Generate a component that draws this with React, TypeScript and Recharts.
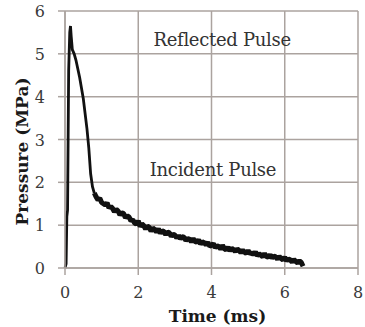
import { CartesianGrid, Line, LineChart, ReferenceDot, XAxis, YAxis } from "recharts";

// rising edge and main decay, sampled by hand
const riseTime = [0, 0.03, 0.05, 0.07, 0.1, 0.13, 0.15, 0.17, 0.2, 0.25, 0.3, 0.4, 0.5, 0.6, 0.65, 0.7, 0.75, 0.8];
const risePressure = [0, 0.1, 1.2, 1.35, 4.6, 5.5, 5.65, 5.4, 5.1, 5.0, 4.85, 4.45, 3.95, 3.25, 2.8, 2.2, 1.9, 1.75];

// noisy tail, one sample every 0.05 ms starting at 0.85 ms
const tailStart = 0.85;
const tailStep = 0.05;
const tailPressure = [
  1.66, 1.59, 1.63, 1.53, 1.5, 1.47, 1.52, 1.4, 1.44, 1.39, 1.31, 1.37, 1.33, 1.24, 1.29, 1.27, 1.17, 1.22, 1.19, 1.1,
  1.13, 1.05, 1.02, 1.1, 0.97, 1.03, 0.99, 0.91, 0.98, 0.95, 0.86, 0.93, 0.9, 0.84, 0.92, 0.81, 0.87, 0.85, 0.78, 0.84,
  0.82, 0.74, 0.79, 0.77, 0.7, 0.76, 0.68, 0.73, 0.72, 0.64, 0.69, 0.67, 0.61, 0.69, 0.62, 0.6, 0.66, 0.56, 0.61, 0.59,
  0.54, 0.6, 0.51, 0.53, 0.57, 0.47, 0.52, 0.5, 0.44, 0.53, 0.45, 0.42, 0.49, 0.4, 0.46, 0.43, 0.38, 0.45, 0.41, 0.36,
  0.42, 0.37, 0.34, 0.41, 0.33, 0.36, 0.31, 0.38, 0.29, 0.33, 0.3, 0.26, 0.34, 0.27, 0.25, 0.31, 0.23, 0.28, 0.26, 0.21,
  0.27, 0.22, 0.19, 0.25, 0.17, 0.21, 0.19, 0.14, 0.2, 0.15, 0.12, 0.17, 0.13, 0.04,
];

const xTicks = [0, 2, 4, 6, 8];
const yTicks = [0, 1, 2, 3, 4, 5, 6];

// rise and tail are kept as two keys so the noisy tail can be drawn heavier;
// the last rise sample is repeated in the tail so the curve stays joined
const data = [
  ...riseTime.map((t, i) => ({
    t,
    rise: risePressure[i],
    tail: i === riseTime.length - 1 ? risePressure[i] : undefined,
  })),
  ...tailPressure.map((p, i) => ({ t: +(tailStart + i * tailStep).toFixed(2), tail: p })),
];

const gridColor = "#aba39f";
const serif = "'DejaVu Serif', 'Liberation Serif', serif";
const tickText = { fontFamily: serif, fontSize: 16, fill: "#3a3a3a" };
const titleText = { fontFamily: serif, fontSize: 17, fontWeight: "bold" as const, fill: "#1a1a1a" };

function XTick({ x, y, payload }: any) {
  return (
    <text x={x} y={y + 21} textAnchor="middle" style={tickText}>
      {payload.value}
    </text>
  );
}

function YTick({ x, y, payload }: any) {
  return (
    <text x={x - 11} y={y + 6} textAnchor="end" style={tickText}>
      {payload.value}
    </text>
  );
}

function NoteLabel({ viewBox, text }: any) {
  if (!viewBox) return null;
  return (
    <text
      x={viewBox.x + viewBox.width / 2}
      y={viewBox.y + viewBox.height / 2 + 6}
      textAnchor="middle"
      style={{ fontFamily: serif, fontSize: 18, fill: "#333", letterSpacing: -0.3 }}
    >
      {text}
    </text>
  );
}

function XTitle({ viewBox }: any) {
  if (!viewBox) return null;
  return (
    <text x={viewBox.x + viewBox.width / 2 + 6} y={322} textAnchor="middle" style={titleText}>
      Time (ms)
    </text>
  );
}

function YTitle({ viewBox }: any) {
  if (!viewBox) return null;
  const cx = 22;
  const cy = viewBox.y + viewBox.height / 2 + 12;
  return (
    <text x={cx} y={cy} textAnchor="middle" dominantBaseline="central" transform={`rotate(-90 ${cx} ${cy})`} style={titleText}>
      Pressure (MPa)
    </text>
  );
}

export default function App() {
  return (
    <div style={{ position: "absolute", left: 0, top: 0, background: "#fff" }}>
      <LineChart width={365} height={327} data={data} margin={{ top: 11, right: 7, left: 0, bottom: 0 }}>
        <CartesianGrid stroke={gridColor} strokeWidth={1.5} />
        <XAxis
          type="number"
          dataKey="t"
          domain={[0, 8]}
          ticks={xTicks}
          height={59}
          tick={<XTick />}
          tickSize={7}
          stroke={gridColor}
          strokeWidth={1.5}
          label={<XTitle />}
        />
        <YAxis
          type="number"
          domain={[0, 6]}
          ticks={yTicks}
          width={65}
          tick={<YTick />}
          tickSize={7}
          stroke={gridColor}
          strokeWidth={1.5}
          label={<YTitle />}
        />
        <Line
          dataKey="rise"
          stroke="#111"
          strokeWidth={2.8}
          dot={false}
          type="linear"
          isAnimationActive={false}
        />
        <Line
          dataKey="tail"
          stroke="#111"
          strokeWidth={5}
          strokeLinejoin="bevel"
          dot={false}
          type="linear"
          isAnimationActive={false}
        />
        <ReferenceDot x={4.29} y={5.33} r={0} stroke="none" label={<NoteLabel text="Reflected Pulse" />} />
        <ReferenceDot x={4.04} y={2.29} r={0} stroke="none" label={<NoteLabel text="Incident Pulse" />} />
      </LineChart>
    </div>
  );
}
